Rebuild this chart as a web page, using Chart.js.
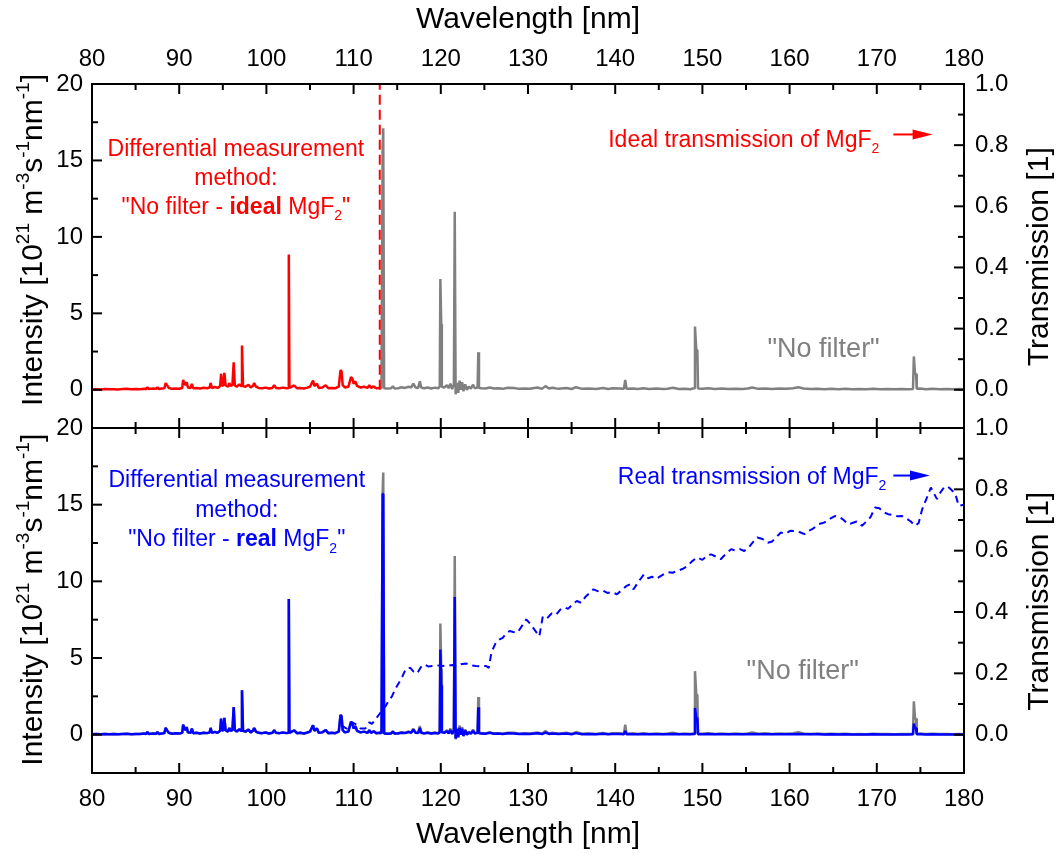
<!DOCTYPE html>
<html>
<head>
<meta charset="utf-8">
<script src="https://cdn.jsdelivr.net/npm/chart.js@4.4.0/dist/chart.umd.min.js"></script>
<style>
  body { margin: 0; background: #fff; }
  #wrap { position: relative; width: 1062px; height: 855px; }
  canvas { position: absolute; left: 0; top: 0; }
</style>
</head>
<body>
<div id="wrap">
  <canvas id="topChart" width="1062" height="855"></canvas>
  <canvas id="bottomChart" width="1062" height="855"></canvas>
</div>
<script>
// wavelength [nm], "No filter" intensity, "No filter - real MgF2" intensity (10^21 m^-3 s^-1 nm^-1)
const wl = [
  80.0, 80.5, 81.0, 81.5, 82.0, 82.5, 83.0, 83.5, 84.0, 84.5, 85.0, 85.5, 86.0, 86.2, 86.35, 86.5, 87.0, 87.35, 87.5, 87.65,
  88.0, 88.3, 88.45, 88.6, 88.8, 89.2, 89.6, 90.0, 90.35, 90.45, 90.6, 90.75, 90.85, 91.0, 91.3, 91.45, 91.6, 92.0, 92.4, 92.8,
  93.2, 93.5, 93.6, 93.75, 94.1, 94.4, 94.7, 94.8, 94.92, 95.05, 95.18, 95.32, 95.6, 95.75, 95.9, 96.1, 96.25, 96.38, 96.6, 96.9,
  97.1, 97.2, 97.32, 97.6, 97.95, 98.2, 98.45, 98.6, 98.8, 99.1, 99.5, 99.9, 100.3, 100.7, 100.9, 101.1, 101.5, 101.9, 102.3, 102.5,
  102.57, 102.64, 102.9, 103.2, 103.5, 103.9, 104.3, 104.7, 105.0, 105.35, 105.5, 105.8, 106.0, 106.4, 106.8, 107.1, 107.5, 107.9, 108.3, 108.5,
  108.62, 108.75, 109.0, 109.4, 109.7, 109.85, 110.0, 110.2, 110.4, 110.8, 111.2, 111.6, 111.8, 112.0, 112.3, 112.6, 113.0,
  113.2, 113.33, 113.4, 113.5, 113.9, 114.3, 114.5, 114.7, 115.1, 115.5, 115.9, 116.3, 116.6, 116.85, 117.1, 117.4, 117.6, 117.75, 118.1, 118.5,
  118.9, 119.3, 119.7, 119.88, 119.95, 120.05, 120.12, 120.4, 120.7, 120.9, 121.1, 121.3, 121.5, 121.6, 121.7, 121.85, 122.0, 122.15, 122.3, 122.45,
  122.6, 122.8, 123.0, 123.2, 123.45, 123.7, 123.9, 124.22, 124.3, 124.38, 124.7, 125.1, 125.6, 126.1, 126.6, 127.1, 127.7, 128.4, 129.0, 129.6,
  130.2, 131.1, 131.6, 132.0, 132.4, 132.8, 133.5, 134.4, 135.0, 135.5, 136.2, 137.0, 137.8, 138.6, 139.2, 139.7, 140.5, 141.0, 141.15, 141.3,
  142.0, 142.6, 143.2, 143.9, 144.7, 145.5, 146.0, 146.6, 147.3, 148.0, 148.6, 149.05, 149.15, 149.3, 149.42, 149.5, 150.0, 150.7, 151.4, 152.2,
  153.0, 153.8, 154.6, 155.2, 155.7, 156.4, 157.2, 158.0, 158.8, 159.6, 160.4, 161.0, 161.6, 162.4, 163.2, 164.0, 164.8, 165.6, 166.4, 167.2,
  168.0, 168.8, 169.6, 170.4, 171.2, 172.0, 172.8, 173.6, 174.15, 174.25, 174.38, 174.5, 174.58, 175.0, 175.6, 176.4, 177.2, 178.0, 178.8, 179.5, 180.0
];
const noFilter = [
  0.02, 0.04, 0.02, 0.05, 0.03, 0.04, 0.02, 0.05, 0.06, 0.03, 0.05, 0.04, 0.07, 0.04, 0.17, 0.05, 0.08, 0.06, 0.17, 0.05,
  0.08, 0.10, 0.44, 0.30, 0.12, 0.06, 0.09, 0.07, 0.12, 0.65, 0.40, 0.30, 0.50, 0.15, 0.12, 0.39, 0.10, 0.12, 0.08, 0.13,
  0.10, 0.15, 0.44, 0.12, 0.18, 0.12, 0.25, 1.05, 0.30, 0.25, 1.10, 0.30, 0.20, 0.44, 0.25, 0.30, 1.80, 0.30, 0.20, 0.35,
  0.25, 2.90, 0.25, 0.20, 0.33, 0.15, 0.25, 0.44, 0.20, 0.12, 0.10, 0.14, 0.08, 0.12, 0.30, 0.12, 0.10, 0.14, 0.10, 0.12,
  8.85, 0.12, 0.20, 0.28, 0.10, 0.12, 0.08, 0.14, 0.20, 0.61, 0.25, 0.40, 0.12, 0.15, 0.30, 0.10, 0.12, 0.10, 0.20, 1.29,
  1.20, 0.30, 0.15, 0.20, 0.83, 0.75, 0.40, 0.55, 0.25, 0.15, 0.20, 0.12, 0.30, 0.12, 0.22, 0.10, 0.12,
  0.10, 15.8, 17.1, 0.10, 0.08, 0.10, 0.22, 0.08, 0.10, 0.16, 0.12, 0.20, 0.15, 0.40, 0.15, 0.12, 0.56, 0.15, 0.10, 0.15,
  0.08, 0.14, 0.10, 0.20, 7.25, 4.30, 0.20, 0.15, 0.30, 0.10, 0.40, 0.05, 0.35, 11.65, -0.30, 0.45, -0.20, 0.60, 0.00, 0.50,
  -0.10, 0.35, 0.00, 0.20, 0.08, 0.33, 0.10, 0.15, 2.46, 0.12, 0.10, 0.08, 0.15, 0.08, 0.10, 0.06, 0.13, 0.12, 0.06, 0.09,
  0.07, 0.15, 0.06, 0.24, 0.08, 0.13, 0.06, 0.12, 0.05, 0.17, 0.06, 0.08, 0.05, 0.11, 0.05, 0.10, 0.09, 0.06, 0.65, 0.06,
  0.08, 0.05, 0.10, 0.05, 0.08, 0.05, 0.07, 0.13, 0.05, 0.07, 0.04, 0.10, 4.14, 2.60, 2.60, 0.08, 0.06, 0.10, 0.05, 0.08,
  0.05, 0.07, 0.05, 0.08, 0.15, 0.06, 0.09, 0.05, 0.08, 0.06, 0.10, 0.16, 0.08, 0.05, 0.07, 0.04, 0.06, 0.04, 0.06, 0.03,
  0.05, 0.03, 0.06, 0.04, 0.05, 0.03, 0.05, 0.04, 0.05, 2.18, 1.05, 1.05, 0.06, 0.08, 0.04, 0.06, 0.04, 0.05, 0.03, 0.05, 0.03
];
const diffReal = [
  0.02, 0.04, 0.02, 0.05, 0.03, 0.04, 0.02, 0.05, 0.06, 0.03, 0.05, 0.04, 0.07, 0.04, 0.17, 0.05, 0.08, 0.06, 0.17, 0.05,
  0.08, 0.10, 0.44, 0.30, 0.12, 0.06, 0.09, 0.07, 0.12, 0.65, 0.40, 0.30, 0.50, 0.15, 0.12, 0.39, 0.10, 0.12, 0.08, 0.13,
  0.10, 0.15, 0.44, 0.12, 0.18, 0.12, 0.25, 1.05, 0.30, 0.25, 1.10, 0.30, 0.20, 0.44, 0.25, 0.30, 1.80, 0.30, 0.20, 0.35,
  0.25, 2.90, 0.25, 0.20, 0.33, 0.15, 0.25, 0.44, 0.20, 0.12, 0.10, 0.14, 0.08, 0.12, 0.30, 0.12, 0.10, 0.14, 0.10, 0.12,
  8.85, 0.12, 0.20, 0.28, 0.10, 0.12, 0.08, 0.14, 0.20, 0.61, 0.25, 0.40, 0.12, 0.15, 0.30, 0.10, 0.12, 0.10, 0.20, 1.29,
  1.20, 0.30, 0.15, 0.20, 0.83, 0.75, 0.40, 0.55, 0.25, 0.15, 0.20, 0.12, 0.30, 0.12, 0.22, 0.10, 0.12,
  0.10, 15.7, 15.7, 0.08, 0.06, 0.08, 0.20, 0.07, 0.08, 0.13, 0.10, 0.17, 0.12, 0.32, 0.12, 0.10, 0.45, 0.12, 0.08, 0.12,
  0.07, 0.11, 0.08, 0.15, 5.55, 3.20, 0.15, 0.12, 0.22, 0.08, 0.30, 0.04, 0.27, 8.97, -0.25, 0.35, -0.15, 0.45, 0.00, 0.38,
  -0.08, 0.27, 0.00, 0.15, 0.06, 0.25, 0.08, 0.12, 1.78, 0.09, 0.08, 0.06, 0.12, 0.06, 0.07, 0.04, 0.09, 0.08, 0.04, 0.06,
  0.04, 0.09, 0.04, 0.14, 0.05, 0.08, 0.04, 0.07, 0.03, 0.10, 0.03, 0.04, 0.03, 0.06, 0.03, 0.05, 0.05, 0.03, 0.25, 0.03,
  0.04, 0.02, 0.05, 0.02, 0.03, 0.02, 0.03, 0.05, 0.02, 0.03, 0.02, 0.05, 1.74, 1.09, 1.09, 0.03, 0.02, 0.04, 0.02, 0.03,
  0.02, 0.03, 0.02, 0.03, 0.05, 0.02, 0.03, 0.02, 0.03, 0.02, 0.03, 0.05, 0.03, 0.02, 0.02, 0.01, 0.02, 0.01, 0.02, 0.01,
  0.01, 0.01, 0.02, 0.01, 0.01, 0.01, 0.01, 0.01, 0.02, 0.72, 0.44, 0.44, 0.02, 0.02, 0.01, 0.02, 0.01, 0.01, 0.01, 0.01, 0.01
];

// real transmission of MgF2 [1]
const tWl = [
  108.6, 109.2, 109.8, 110.2, 110.8, 111.35, 111.8, 112.1, 112.5, 112.9, 113.3, 113.65, 114.0, 114.4, 114.8, 115.2, 115.6, 116.0, 116.5, 116.9,
  117.3, 117.7, 118.1, 118.6, 119.0, 119.6, 120.2, 120.8, 121.3, 121.8, 122.3, 122.9, 123.4, 124.0, 124.6, 125.2, 125.5, 125.8, 126.3, 126.7,
  127.1, 127.5, 127.9, 128.3, 128.8, 129.2, 129.6, 129.8, 130.3, 130.8, 131.3, 131.7, 132.2, 132.7, 133.2, 133.7, 134.2, 134.6, 135.1, 135.6,
  136.1, 136.6, 137.0, 137.5, 138.0, 138.6, 139.1, 139.6, 140.2, 140.7, 141.3, 141.7, 142.1, 142.7, 143.3, 143.8, 144.2, 144.7, 145.2, 145.7,
  146.1, 146.6, 147.1, 147.7, 148.3, 148.8, 149.4, 150.0, 150.5, 151.0, 151.6, 152.1, 152.7, 153.3, 153.8, 154.3, 154.8, 155.3, 155.8, 156.3,
  156.9, 157.5, 158.0, 158.5, 159.0, 159.5, 160.1, 160.6, 161.2, 161.7, 162.2, 162.7, 163.3, 163.8, 164.2, 164.7, 165.2, 165.7, 166.2, 166.7,
  167.2, 167.7, 168.3, 168.8, 169.3, 169.8, 170.3, 170.8, 171.3, 171.8, 172.4, 172.9, 173.4, 173.9, 174.4, 174.8, 175.2, 175.7, 176.2, 176.5,
  176.9, 177.3, 177.7, 178.1, 178.5, 179.0, 179.4, 180.0
];
const tReal = [
  0.030, 0.020, 0.040, 0.035, 0.020, 0.020, 0.040, 0.035, 0.050, 0.065, 0.080, 0.092, 0.110, 0.125, 0.150, 0.169, 0.190, 0.215, 0.218, 0.205,
  0.200, 0.220, 0.229, 0.222, 0.224, 0.226, 0.224, 0.225, 0.227, 0.223, 0.230, 0.232, 0.226, 0.224, 0.223, 0.224, 0.218, 0.267, 0.300, 0.310,
  0.316, 0.330, 0.338, 0.335, 0.333, 0.350, 0.367, 0.376, 0.360, 0.340, 0.321, 0.386, 0.380, 0.395, 0.390, 0.408, 0.415, 0.410, 0.425, 0.436,
  0.430, 0.450, 0.460, 0.474, 0.468, 0.470, 0.462, 0.465, 0.458, 0.470, 0.485, 0.490, 0.474, 0.500, 0.523, 0.510, 0.515, 0.508, 0.517, 0.525,
  0.530, 0.528, 0.534, 0.540, 0.550, 0.565, 0.578, 0.570, 0.583, 0.588, 0.580, 0.572, 0.590, 0.605, 0.600, 0.605, 0.599, 0.610, 0.628, 0.643,
  0.638, 0.626, 0.630, 0.645, 0.659, 0.655, 0.665, 0.664, 0.660, 0.654, 0.665, 0.672, 0.686, 0.690, 0.695, 0.705, 0.713, 0.710, 0.700, 0.686,
  0.690, 0.695, 0.681, 0.695, 0.710, 0.741, 0.738, 0.725, 0.719, 0.716, 0.712, 0.713, 0.705, 0.695, 0.681, 0.690, 0.735, 0.770, 0.806, 0.790,
  0.768, 0.790, 0.806, 0.810, 0.800, 0.785, 0.746, 0.750
];

const filterEdge = 113;   // cut-off of the ideal MgF2 window
const xTicks = [80, 90, 100, 110, 120, 130, 140, 150, 160, 170, 180];
const xMinor = [85, 95, 105, 115, 125, 135, 145, 155, 165, 175];
const yTicksL = [0, 5, 10, 15, 20];
const yMinorL = [2.5, 7.5, 12.5, 17.5];
const yTicksR = [0, 0.2, 0.4, 0.6, 0.8, 1.0];
const yMinorR = [0.1, 0.3, 0.5, 0.7, 0.9];

const FONT = "'Liberation Sans', Arial, sans-serif";
Chart.defaults.font.family = FONT;
Chart.defaults.color = "#000";

const RED = "#ff0000", GRAY = "#808080", BLUE = "#0000ff";

function pts(xs, ys, keep) {
    let out = [];
    xs.forEach((x, i) => { if (!keep || keep(x)) out.push({ x: x, y: ys[i] }); });
    return out;
}

function richText(ctx, parts, x, y, size, color, align) {
    let fontFor = k => (k === "b" ? "bold " : "") + ((k === "sup" || k === "sub") ? Math.round(size * 0.62) : size) + "px " + FONT;
    let w = 0;
    parts.forEach(p => { ctx.font = fontFor(p[1]); w += ctx.measureText(p[0]).width; });
    let cx = align === "left" ? x : (align === "right" ? x - w : x - w / 2);
    ctx.fillStyle = color;
    ctx.textAlign = "left";
    ctx.textBaseline = "alphabetic";
    parts.forEach(p => {
        ctx.font = fontFor(p[1]);
        let dy = p[1] === "sup" ? -size * 0.42 : (p[1] === "sub" ? size * 0.28 : 0);
        ctx.fillText(p[0], cx, y + dy);
        cx += ctx.measureText(p[0]).width;
    });
}

function arrow(ctx, x1, x2, y, color) {
    ctx.strokeStyle = color;
    ctx.fillStyle = color;
    ctx.lineWidth = 2;
    ctx.beginPath(); ctx.moveTo(x1, y); ctx.lineTo(x2 - 12, y); ctx.stroke();
    ctx.beginPath(); ctx.moveTo(x2 - 20, y - 5); ctx.lineTo(x2, y); ctx.lineTo(x2 - 20, y + 5); ctx.closePath(); ctx.fill();
}

function rotated(ctx, parts, x, y, size) {
    ctx.save();
    ctx.translate(x, y);
    ctx.rotate(-Math.PI / 2);
    richText(ctx, parts, 0, 0, size, "#000", "center");
    ctx.restore();
}

const intensityTitle = [["Intensity [10", ""], ["21", "sup"], [" m", ""], ["-3", "sup"], ["s", ""], ["-1", "sup"], ["nm", ""], ["-1", "sup"], ["]", ""]];

// frame with inward ticks on all four sides
const framePlugin = {
    id: "frame",
    afterDatasetsDraw(chart) {
        let { ctx, chartArea: a, scales } = chart;
        let x = scales.x, yL = scales.yL, yR = scales.yR;
        let line = (x1, y1, x2, y2) => { ctx.beginPath(); ctx.moveTo(x1, y1); ctx.lineTo(x2, y2); ctx.stroke(); };
        ctx.save();
        ctx.strokeStyle = "#000";
        ctx.lineWidth = 2;
        xTicks.forEach(v => { let p = x.getPixelForValue(v); line(p, a.top, p, a.top + 10); line(p, a.bottom, p, a.bottom - 10); });
        xMinor.forEach(v => { let p = x.getPixelForValue(v); line(p, a.top, p, a.top + 6); line(p, a.bottom, p, a.bottom - 6); });
        yTicksL.forEach(v => { let p = yL.getPixelForValue(v); line(a.left, p, a.left + 10, p); });
        yMinorL.forEach(v => { let p = yL.getPixelForValue(v); line(a.left, p, a.left + 6, p); });
        yTicksR.forEach(v => { let p = yR.getPixelForValue(v); line(a.right, p, a.right - 10, p); });
        yMinorR.forEach(v => { let p = yR.getPixelForValue(v); line(a.right, p, a.right - 6, p); });
        ctx.strokeRect(a.left, a.top, a.right - a.left, a.bottom - a.top);
        ctx.restore();
    }
};

function scalesFor(pos, top, bottom) {
    return {
        x: {
            type: "linear", position: pos, min: 80, max: 180,
            afterBuildTicks: s => { s.ticks = xTicks.map(v => ({ value: v })); },
            afterFit: s => { s.height = pos === "top" ? top : 855 - bottom; },
            grid: { display: false, drawTicks: false }, border: { display: false },
            ticks: { font: { size: 24 }, padding: pos === "top" ? 10 : 12, autoSkip: false, maxRotation: 0 },
            title: { display: true, text: "Wavelength [nm]", font: { size: 30 }, padding: { top: 2, bottom: 2 } }
        },
        yL: {
            type: "linear", position: "left", min: -2.5, max: 20,
            afterBuildTicks: s => { s.ticks = yTicksL.map(v => ({ value: v })); },
            afterFit: s => { s.width = 92; },
            grid: { display: false, drawTicks: false }, border: { display: false },
            ticks: { font: { size: 24 }, padding: 9, autoSkip: false }
        },
        yR: {
            type: "linear", position: "right", min: -0.125, max: 1,
            afterBuildTicks: s => { s.ticks = yTicksR.map(v => ({ value: v })); },
            afterFit: s => { s.width = 98; },
            grid: { display: false, drawTicks: false }, border: { display: false },
            ticks: { font: { size: 24 }, padding: 11, autoSkip: false, callback: v => Number(v).toFixed(1) }
        }
    };
}

function lineSet(data, color, axis, dash, width) {
    return {
        data: data, borderColor: color, borderWidth: width || 2.5, borderDash: dash || [],
        pointRadius: 0, pointHoverRadius: 0, showLine: true, tension: 0,
        borderJoinStyle: "bevel", yAxisID: axis, xAxisID: "x"
    };
}

// Top panel: ideal MgF2
const topNotes = {
    id: "topNotes",
    afterDraw(chart) {
        let { ctx, scales } = chart;
        let x = scales.x, y = scales.yL;
        let X = v => x.getPixelForValue(v), Y = v => y.getPixelForValue(v);
        ctx.save();
        richText(ctx, [["Differential measurement", ""]], X(96.5), Y(15.3), 23, RED, "center");
        richText(ctx, [["method:", ""]], X(96.5), Y(13.4), 23, RED, "center");
        richText(ctx, [["\"No filter - ", ""], ["ideal", "b"], [" MgF", ""], ["2", "sub"], ["\"", ""]], X(96.5), Y(11.5), 23, RED, "center");
        richText(ctx, [["Ideal transmission of MgF", ""], ["2", "sub"]], X(139.2), Y(15.9), 23, RED, "left");
        arrow(ctx, X(171.9), X(176.4), Y(16.7), RED);
        richText(ctx, [["\"No filter\"", ""]], X(163.9), Y(2.16), 27, GRAY, "center");
        rotated(ctx, intensityTitle, 42, Y(9.8), 30);
        rotated(ctx, [["Transmission [1]", ""]], 1048, Y(8.7), 30);
        ctx.restore();
    }
};

// Bottom panel: real MgF2
const bottomNotes = {
    id: "bottomNotes",
    afterDraw(chart) {
        let { ctx, scales } = chart;
        let x = scales.x, y = scales.yL;
        let X = v => x.getPixelForValue(v), Y = v => y.getPixelForValue(v);
        ctx.save();
        richText(ctx, [["Differential measurement", ""]], X(96.6), Y(16.15), 23, BLUE, "center");
        richText(ctx, [["method:", ""]], X(96.6), Y(14.2), 23, BLUE, "center");
        richText(ctx, [["\"No filter - ", ""], ["real", "b"], [" MgF", ""], ["2", "sub"], ["\"", ""]], X(96.6), Y(12.3), 23, BLUE, "center");
        richText(ctx, [["Real transmission of MgF", ""], ["2", "sub"]], X(140.3), Y(16.35), 23, BLUE, "left");
        arrow(ctx, X(171.9), X(176.1), Y(16.9), BLUE);
        richText(ctx, [["\"No filter\"", ""]], X(161.5), Y(3.6), 27, GRAY, "center");
        rotated(ctx, intensityTitle, 42, Y(8.8), 30);
        rotated(ctx, [["Transmission [1]", ""]], 1048, Y(8.7), 30);
        ctx.restore();
    }
};

const PANEL_SPLIT = 428;

new Chart(document.getElementById("topChart"), {
    type: "scatter",
    data: {
        datasets: [
            lineSet([{ x: filterEdge, y: 0 }, { x: filterEdge, y: 20 }], RED, "yL", [10, 5], 2),
            lineSet(pts(wl, noFilter, v => v <= filterEdge), RED, "yL"),
            lineSet(pts(wl, noFilter, v => v >= filterEdge), GRAY, "yL")
        ]
    },
    options: {
        responsive: false, animation: false, events: [],
        layout: { autoPadding: false, padding: { top: 0, left: 0, right: 0, bottom: 855 - PANEL_SPLIT } },
        plugins: { legend: { display: false }, tooltip: { enabled: false } },
        scales: scalesFor("top", 84, 0)
    },
    plugins: [framePlugin, topNotes]
});

new Chart(document.getElementById("bottomChart"), {
    type: "scatter",
    data: {
        datasets: [
            lineSet(pts(tWl, tReal), BLUE, "yR", [7, 5], 2),
            lineSet(pts(wl, diffReal), BLUE, "yL"),
            lineSet(pts(wl, noFilter), GRAY, "yL")
        ]
    },
    options: {
        responsive: false, animation: false, events: [],
        layout: { autoPadding: false, padding: { top: PANEL_SPLIT, left: 0, right: 0, bottom: 0 } },
        plugins: { legend: { display: false }, tooltip: { enabled: false } },
        scales: scalesFor("bottom", 0, 773)
    },
    plugins: [framePlugin, bottomNotes]
});
</script>
</body>
</html>
